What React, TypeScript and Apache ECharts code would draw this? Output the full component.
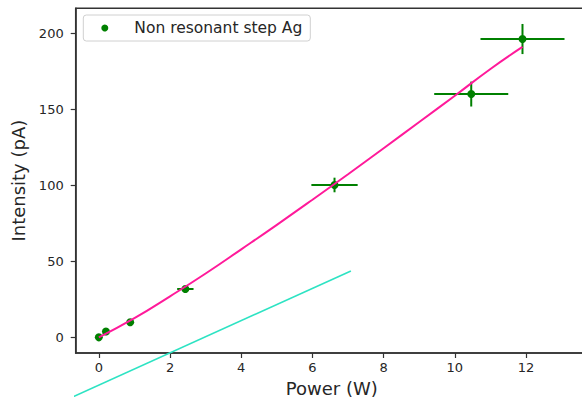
import React, { useEffect, useRef } from "react";
import * as echarts from "echarts";

// Measured points (Power W, Intensity pA) with error bars
const powerW = [0, 0.2, 0.88, 2.43, 6.62, 10.46, 11.9];
const intensityPA = [0, 3.8, 9.9, 31.8, 100.2, 160, 196.2];
const powerErr = [0, 0.02, 0.09, 0.23, 0.65, 1.04, 1.18];
const intensityErr = [0, 0.2, 0.5, 1.6, 4.8, 8.2, 9.9];

// Fit curve
const fitX = [0, 1, 2, 3, 4, 5, 6, 7, 8, 9, 10, 11, 11.9];
const fitY = [0, 12.6, 27, 42, 57.9, 74, 90.5, 107.3, 124.4, 141.6, 158.9, 176.5, 191];

// Cyan reference line endpoints
const lineX = [-0.8, 7.08];
const lineY = [-39.9, 43.6];

const xTicks = [0, 2, 4, 6, 8, 10, 12];
const yTicks = [0, 50, 100, 150, 200];

const seriesName = "Non resonant step Ag";
const FONT = "DejaVu Sans";
const TXT = "#262626";
const AX = "#333333";

export default function App() {
  const ref = useRef<HTMLDivElement>(null);
  useEffect(() => {
    if (!ref.current) return;
    const chart = echarts.init(ref.current, undefined, { renderer: "svg" });
    const errData = powerW.map((x, i) => [x, intensityPA[i], powerErr[i], intensityErr[i]]);
    chart.setOption({
      animation: false,
      backgroundColor: "#ffffff",
      grid: {
        left: 75.7,
        right: 2,
        top: 8.3,
        bottom: 44,
        outerBoundsMode: "none",
        containLabel: false,
        show: true,
        borderColor: AX,
        borderWidth: 1.5,
        backgroundColor: "transparent",
      },
      legend: {
        data: [{ name: seriesName, icon: "circle", itemStyle: { color: "#008000", opacity: 1 } }],
        left: 83.3,
        top: 15,
        orient: "horizontal",
        itemWidth: 7,
        itemHeight: 7,
        itemGap: 0,
        padding: [4, 8, 4, 18],
        borderColor: "#d0d0d0",
        borderWidth: 1,
        borderRadius: 3,
        backgroundColor: "#ffffff",
        textStyle: {
          fontFamily: FONT,
          fontSize: 15.5,
          color: TXT,
          lineHeight: 18,
          padding: [0, 0, 0, 21],
        },
      },
      xAxis: {
        type: "value",
        min: -0.65,
        max: 13.74,
        name: "Power (W)",
        nameLocation: "middle",
        nameGap: 26,
        nameTextStyle: { fontFamily: FONT, fontSize: 18, color: TXT },
        splitLine: { show: false },
        axisLine: { show: true, onZero: false, lineStyle: { color: AX, width: 1.5 } },
        axisTick: { show: true, length: 5, customValues: xTicks, lineStyle: { color: AX, width: 1.2 } },
        axisLabel: { customValues: xTicks, margin: 8, fontFamily: FONT, fontSize: 13, color: TXT },
      },
      yAxis: {
        type: "value",
        min: -10.3,
        max: 216.4,
        name: "Intensity (pA)",
        nameLocation: "middle",
        nameGap: 41,
        nameTextStyle: { fontFamily: FONT, fontSize: 18, color: TXT },
        splitLine: { show: false },
        axisLine: { show: true, onZero: false, lineStyle: { color: AX, width: 1.5 } },
        axisTick: { show: true, length: 5, customValues: yTicks, lineStyle: { color: AX, width: 1.2 } },
        axisLabel: { customValues: yTicks, margin: 12, fontFamily: FONT, fontSize: 13, color: TXT },
      },
      series: [
        {
          type: "line",
          name: "cyan",
          data: lineX.map((x, i) => [x, lineY[i]]),
          clip: false,
          showSymbol: false,
          symbol: "none",
          lineStyle: { color: "#2de3c3", width: 1.6 },
          z: 2,
        },
        {
          type: "custom",
          name: "err",
          data: errData,
          encode: { x: 0, y: 1 },
          z: 3,
          renderItem: (params: any, api: any) => {
            const x = api.value(0);
            const y = api.value(1);
            const xe = api.value(2);
            const ye = api.value(3);
            const a = api.coord([x - xe, y]);
            const b = api.coord([x + xe, y]);
            const c = api.coord([x, y - ye]);
            const d = api.coord([x, y + ye]);
            const st = { stroke: "#008000", lineWidth: 2 };
            return {
              type: "group",
              children: [
                { type: "line", shape: { x1: a[0], y1: a[1], x2: b[0], y2: b[1] }, style: st },
                { type: "line", shape: { x1: c[0], y1: c[1], x2: d[0], y2: d[1] }, style: st },
              ],
            };
          },
        },
        {
          type: "scatter",
          name: seriesName,
          data: powerW.map((x, i) => [x, intensityPA[i]]),
          symbol: "circle",
          symbolSize: 8,
          itemStyle: { color: "#008000", opacity: 1 },
          z: 4,
        },
        {
          type: "line",
          name: "fit",
          data: fitX.map((x, i) => [x, fitY[i]]),
          smooth: true,
          showSymbol: false,
          symbol: "none",
          lineStyle: { color: "#ff1a9a", width: 2 },
          z: 5,
        },
      ],
    });
    return () => chart.dispose();
  }, []);
  return (
    <div style={{ position: "fixed", left: 0, top: 0, width: 582, height: 397, overflow: "hidden", background: "#fff" }}>
      <div ref={ref} style={{ width: 590, height: 397 }} />
    </div>
  );
}
